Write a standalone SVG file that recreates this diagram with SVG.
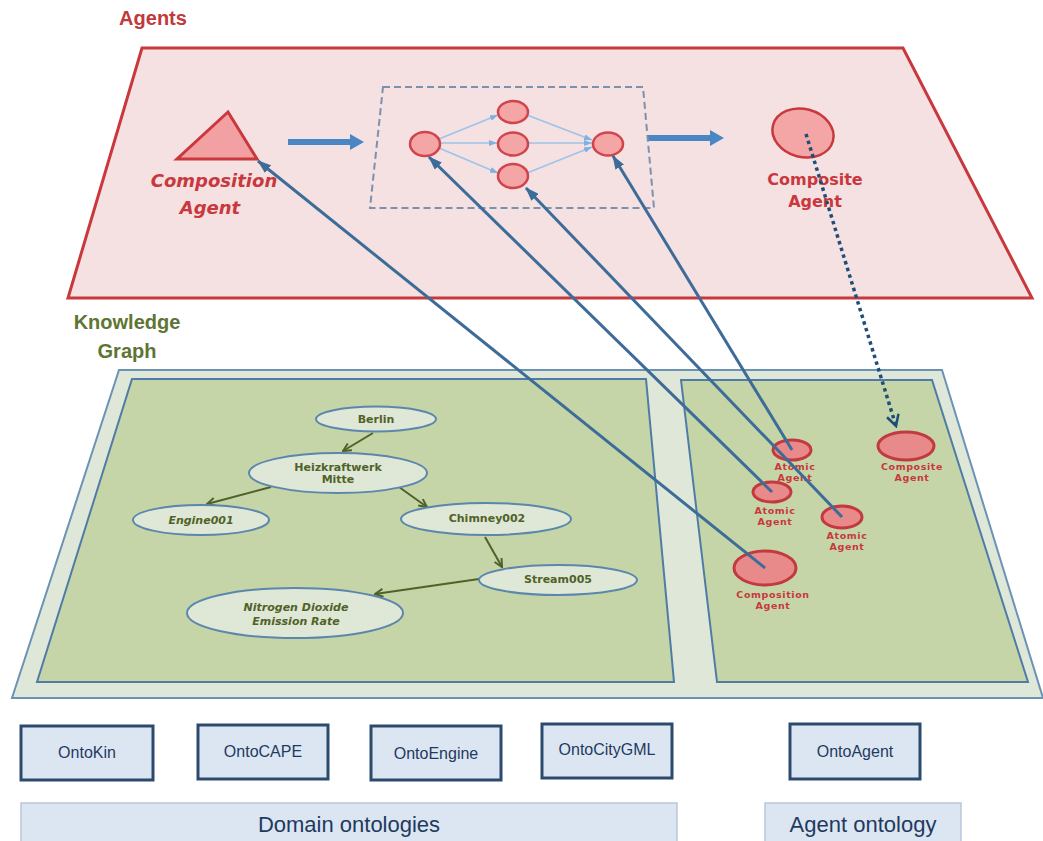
<svg xmlns="http://www.w3.org/2000/svg" width="1043" height="841" viewBox="0 0 1043 841">
<style>
.ttl{font-family:"Liberation Sans",Arial,sans-serif;font-weight:bold}
.red{fill:#c0393b}
.olive{fill:#5e7533}
.ag{font-family:"DejaVu Sans",Verdana,sans-serif;font-weight:bold;fill:#c8383d;text-anchor:middle}
.sm{font-size:9.5px;letter-spacing:0.6px}
.kgt{font-family:"DejaVu Sans",Verdana,sans-serif;font-weight:bold;font-size:11px;fill:#4f6228;text-anchor:middle}
.kge{fill:#dfe7d6;stroke:#5b87ad;stroke-width:2}
.kga{stroke:#4f6228;stroke-width:2;fill:none;marker-end:url(#ga)}
.circ{fill:#f4a5a6;stroke:#d2434a;stroke-width:2.5}
.acirc{fill:#e8898a;stroke:#c23a3f;stroke-width:3}
.la{stroke:#9cc3e8;stroke-width:1.5;fill:none;marker-end:url(#la)}
.con{stroke:#3d6c99;stroke-width:3;fill:none;marker-end:url(#ba)}
.box{fill:#dce6f2;stroke:#2c4a6e;stroke-width:3}
.btx{font-family:"Liberation Sans",Arial,sans-serif;font-size:16px;fill:#1f3a5f;text-anchor:middle}
.big{fill:#dce6f2;stroke:#b8c8da;stroke-width:1.5}
.bigt{font-family:"Liberation Sans",Arial,sans-serif;font-size:22px;fill:#1f3a5f;text-anchor:middle}
</style>
<defs>
<marker id="ba" markerUnits="userSpaceOnUse" markerWidth="14" markerHeight="10" refX="13" refY="5" orient="auto"><path d="M0,0 L14,5 L0,10 z" fill="#3d6c99"/></marker>
<marker id="la" markerUnits="userSpaceOnUse" markerWidth="8" markerHeight="6" refX="8" refY="3" orient="auto"><path d="M0,0 L8,3 L0,6 z" fill="#7fb2e3"/></marker>
<marker id="ga" markerUnits="userSpaceOnUse" markerWidth="10" markerHeight="10" refX="9" refY="5" orient="auto"><path d="M1,1 L9,5 L1,9" fill="none" stroke="#4f6228" stroke-width="2"/></marker>
<marker id="da" markerUnits="userSpaceOnUse" markerWidth="14" markerHeight="14" refX="12" refY="7" orient="auto"><path d="M1,1 L12,7 L1,13" fill="none" stroke="#1f4e79" stroke-width="2.5"/></marker>
</defs>

<!-- Agents layer -->
<g id="agents-plane">
<text class="ttl red" x="153" y="25" font-size="20" text-anchor="middle">Agents</text>
<polygon points="142,48 903,48 1032,298 68,298" fill="#f5e1e1" stroke="#c8383d" stroke-width="3"/>
</g>
<g id="composition-agent-top">
<polygon points="228,112 177,159 257,159" fill="#f2a0a1" stroke="#c8383d" stroke-width="3" stroke-linejoin="miter"/>
<text class="ag" x="214" y="187" font-size="18" font-style="italic">Composition</text>
<text class="ag" x="210" y="214" font-size="18" font-style="italic">Agent</text>
</g>
<g id="block-arrows">
<polygon points="288,139 350,139 350,134 364,142 350,150 350,145 288,145" fill="#4a86c4"/>
<polygon points="648,135 710,135 710,130 724,138 710,146 710,141 648,141" fill="#4a86c4"/>
</g>
<g id="workflow">
<polygon points="383,87 643,87 654,208 370,208" fill="none" stroke="#7a92ad" stroke-width="2" stroke-dasharray="7,4"/>
<path class="la" d="M439,139 L498,115"/>
<path class="la" d="M440,143 L497,143"/>
<path class="la" d="M439,148 L498,173"/>
<path class="la" d="M527,115 L592,140"/>
<path class="la" d="M528,143 L592,143"/>
<path class="la" d="M527,173 L592,147"/>
<ellipse id="wf-start" class="circ" cx="425" cy="144" rx="15" ry="12"/>
<ellipse id="wf-top" class="circ" cx="513" cy="112" rx="15" ry="11"/>
<ellipse id="wf-mid" class="circ" cx="513" cy="144" rx="15" ry="11.5"/>
<ellipse id="wf-bot" class="circ" cx="513" cy="176" rx="15" ry="12"/>
<ellipse id="wf-end" class="circ" cx="608" cy="144" rx="15" ry="11.5"/>
</g>
<g id="composite-agent-top">
<ellipse cx="803" cy="133" rx="31" ry="24" transform="rotate(15 803 133)" fill="#f4a5a6" stroke="#c8383d" stroke-width="2.5"/>
<text class="ag" x="815" y="185" font-size="16">Composite</text>
<text class="ag" x="815" y="207" font-size="16">Agent</text>
</g>

<!-- Knowledge graph layer -->
<g id="kg-plane">
<text class="ttl olive" x="127" y="329" font-size="20" text-anchor="middle">Knowledge</text>
<text class="ttl olive" x="127" y="358" font-size="20" text-anchor="middle">Graph</text>
<polygon points="119,370 942,370 1043,698 12,698" fill="#dfe7d9" stroke="#6b93b5" stroke-width="2"/>
<polygon points="132,379 646,379 674,682 37,682" fill="#c5d5a8" stroke="#4f7ca6" stroke-width="2"/>
<polygon points="681,380 932,380 1028,682 717,682" fill="#c5d5a8" stroke="#4f7ca6" stroke-width="2"/>
</g>
<g id="kg-edges">
<path class="kga" d="M373,433 L343,451"/>
<path class="kga" d="M271,487 L207,504"/>
<path class="kga" d="M399,487 L427,507"/>
<path class="kga" d="M485,537 L502,567"/>
<path class="kga" d="M479,579 L375,594"/>
</g>
<g id="berlin"><ellipse class="kge" cx="376" cy="419" rx="60" ry="12.5"/><text class="kgt" x="376" y="423">Berlin</text></g>
<g id="heizkraftwerk"><ellipse class="kge" cx="338" cy="473" rx="89" ry="20"/><text class="kgt" x="338" y="471">Heizkraftwerk</text><text class="kgt" x="338" y="483">Mitte</text></g>
<g id="engine001"><ellipse class="kge" cx="201" cy="520" rx="68" ry="15"/><text class="kgt" x="201" y="524" font-style="italic">Engine001</text></g>
<g id="chimney002"><ellipse class="kge" cx="486" cy="519" rx="85" ry="16"/><text class="kgt" x="487" y="522">Chimney002</text></g>
<g id="stream005"><ellipse class="kge" cx="558" cy="580" rx="79" ry="15"/><text class="kgt" x="558" y="583">Stream005</text></g>
<g id="no2"><ellipse class="kge" cx="295" cy="613" rx="108" ry="25"/><text class="kgt" x="296" y="611" font-style="italic">Nitrogen Dioxide</text><text class="kgt" x="296" y="625" font-style="italic">Emission Rate</text></g>

<g id="atomic-agent-1"><ellipse class="acirc" cx="792" cy="450" rx="19" ry="10"/><text class="ag sm" x="795" y="470">Atomic</text><text class="ag sm" x="795" y="481">Agent</text></g>
<g id="atomic-agent-2"><ellipse class="acirc" cx="772" cy="492" rx="19" ry="10"/><text class="ag sm" x="775" y="514">Atomic</text><text class="ag sm" x="775" y="525">Agent</text></g>
<g id="atomic-agent-3"><ellipse class="acirc" cx="842" cy="517" rx="20" ry="11"/><text class="ag sm" x="847" y="539">Atomic</text><text class="ag sm" x="847" y="550">Agent</text></g>
<g id="composition-agent-kg"><ellipse class="acirc" cx="765" cy="568" rx="31" ry="17"/><text class="ag sm" x="773" y="598">Composition</text><text class="ag sm" x="773" y="609">Agent</text></g>
<g id="composite-agent-kg"><ellipse class="acirc" cx="906" cy="446" rx="28" ry="14"/><text class="ag sm" x="912" y="470">Composite</text><text class="ag sm" x="912" y="481">Agent</text></g>

<!-- connectors -->
<g id="connectors">
<path class="con" d="M765,568 L258,161"/>
<path class="con" d="M772,492 L429,157"/>
<path class="con" d="M842,517 L526,188"/>
<path class="con" d="M792,450 L613,156"/>
<path d="M806,134 L896,426" fill="none" stroke="#1f4e79" stroke-width="3.5" stroke-dasharray="3.5,3.5" marker-end="url(#da)"/>
</g>

<!-- ontologies -->
<g id="ontokin"><rect class="box" x="21" y="726" width="132" height="54"/><text class="btx" x="87" y="758">OntoKin</text></g>
<g id="ontocape"><rect class="box" x="198" y="725" width="130" height="54"/><text class="btx" x="263" y="757">OntoCAPE</text></g>
<g id="ontoengine"><rect class="box" x="371" y="726" width="130" height="54"/><text class="btx" x="436" y="759">OntoEngine</text></g>
<g id="ontocitygml"><rect class="box" x="542" y="724" width="130" height="54"/><text class="btx" x="607" y="755">OntoCityGML</text></g>
<g id="ontoagent"><rect class="box" x="790" y="724" width="130" height="55"/><text class="btx" x="855" y="757">OntoAgent</text></g>
<g id="domain-ontologies"><rect class="big" x="21" y="803" width="656" height="42"/><text class="bigt" x="349" y="832">Domain ontologies</text></g>
<g id="agent-ontology"><rect class="big" x="765" y="803" width="196" height="42"/><text class="bigt" x="863" y="832">Agent ontology</text></g>
</svg>
